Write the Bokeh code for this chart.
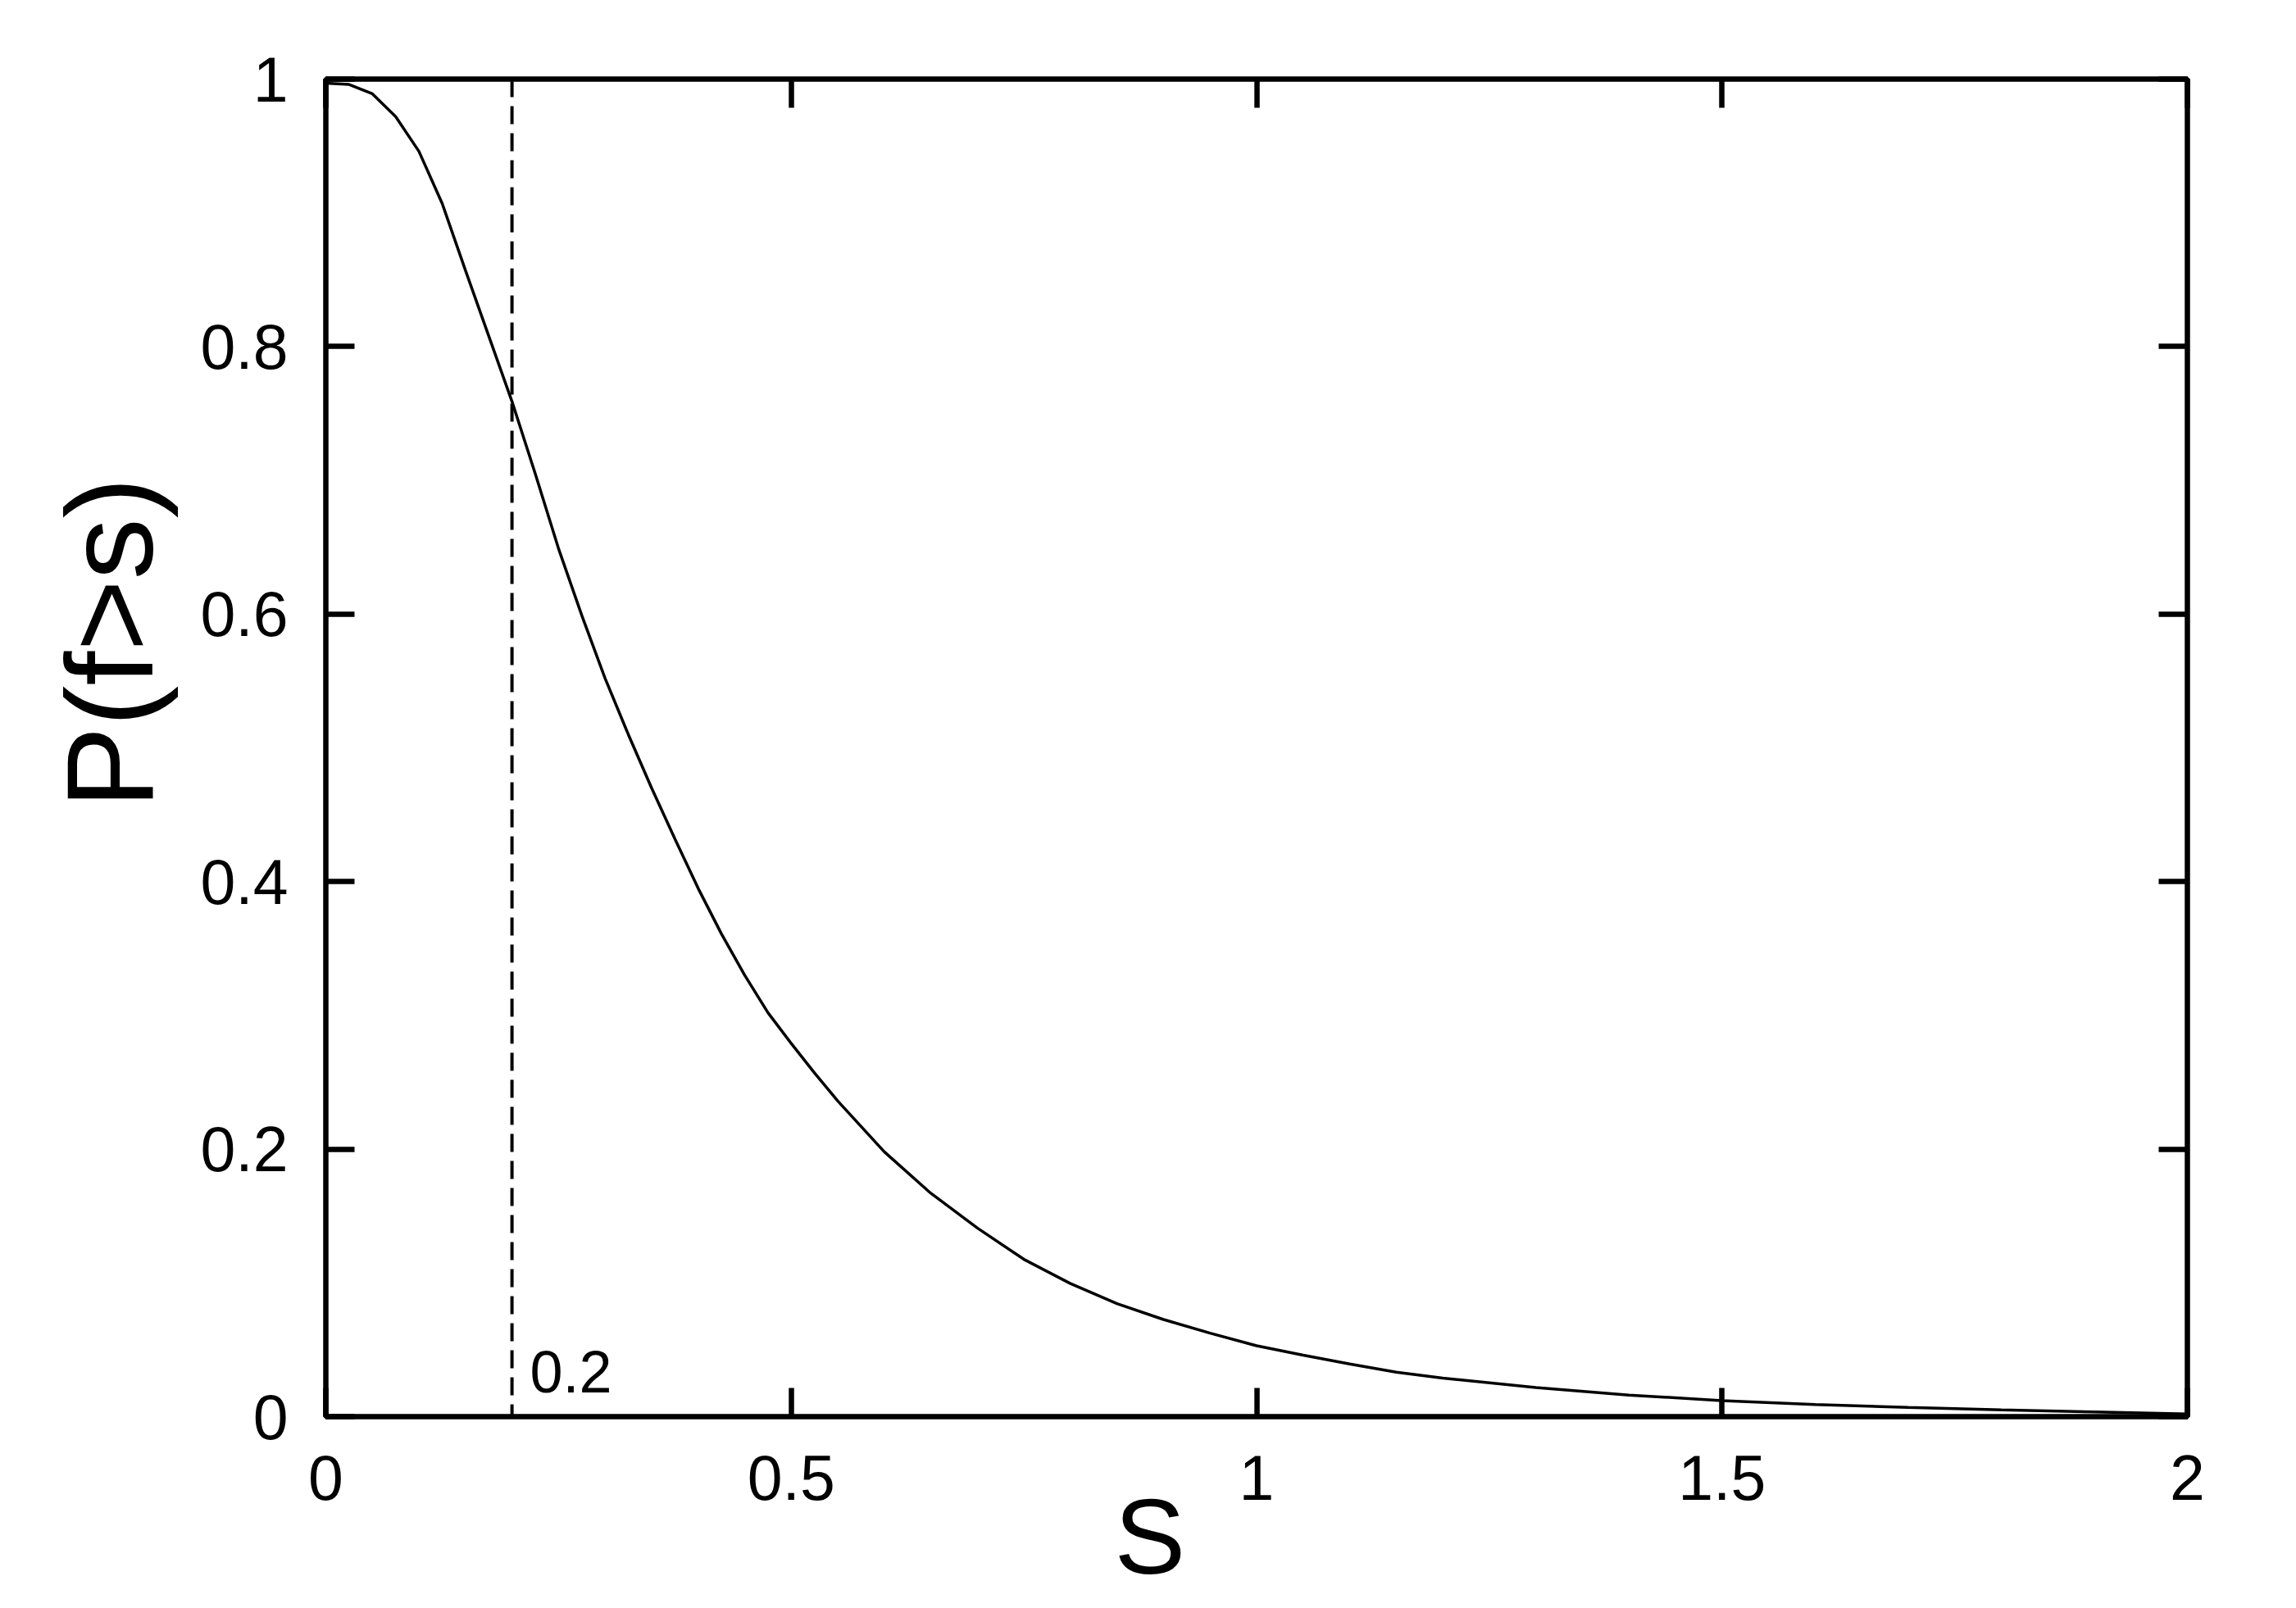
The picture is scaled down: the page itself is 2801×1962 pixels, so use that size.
from bokeh.plotting import figure
from bokeh.models import Range1d, FixedTicker, LinearAxis, Span, Label, Title
from bokeh.embed import file_html
from bokeh.resources import INLINE

# ---- data ----
s_values = [0.0, 0.025, 0.05, 0.075, 0.1, 0.125, 0.15, 0.175, 0.2, 0.225, 0.25,
            0.275, 0.3, 0.325, 0.35, 0.375, 0.4, 0.425, 0.45, 0.475, 0.5, 0.525,
            0.55, 0.575, 0.6, 0.65, 0.7, 0.75, 0.8, 0.85, 0.9, 0.95, 1.0, 1.05,
            1.1, 1.15, 1.2, 1.3, 1.4, 1.5, 1.6, 1.7, 1.8, 1.9, 2.0]
p_values = [0.997, 0.996, 0.989, 0.972, 0.946, 0.907, 0.857, 0.808, 0.759, 0.705, 0.649,
            0.599, 0.552, 0.510, 0.470, 0.432, 0.395, 0.361, 0.330, 0.302, 0.279, 0.257,
            0.236, 0.217, 0.198, 0.167, 0.141, 0.1176, 0.0995, 0.0845, 0.0726, 0.0624, 0.053, 0.046,
            0.0394, 0.0332, 0.0288, 0.0217, 0.0161, 0.0120, 0.0091, 0.0069, 0.0050, 0.0035, 0.0020]

threshold = 0.2
threshold_label = "0.2"

x_ticks = [0, 0.5, 1, 1.5, 2]
x_tick_labels = ["0", "0.5", "1", "1.5", "2"]
y_ticks = [0, 0.2, 0.4, 0.6, 0.8, 1]
y_tick_labels = ["0", "0.2", "0.4", "0.6", "0.8", "1"]

x_title = "S"
y_title = "P(f>s)"

FONT = "Liberation Sans"
TICK_FS = "77px"

p = figure(width=2785, height=1946, output_backend="svg", toolbar_location=None,
           x_range=Range1d(0, 2), y_range=Range1d(0, 1),
           min_border_left=397, min_border_right=117, min_border_top=96, min_border_bottom=218,
           x_axis_location=None, y_axis_location=None)
p.background_fill_color = "white"
p.border_fill_color = "white"
p.xgrid.visible = False
p.ygrid.visible = False
p.outline_line_color = "black"
p.outline_line_width = 6.5

def style_axis(ax, ticks, labels, show_labels, standoff):
    ax.ticker = FixedTicker(ticks=ticks)
    ax.major_label_overrides = {t: l for t, l in zip(ticks, labels)}
    ax.axis_line_color = None
    ax.major_tick_in = 35
    ax.major_tick_out = 0
    ax.major_tick_line_width = 6.5
    ax.major_tick_line_color = "black"
    ax.minor_tick_line_color = None
    ax.major_label_standoff = standoff
    ax.major_label_text_font = FONT
    if show_labels:
        ax.major_label_text_font_size = TICK_FS
        ax.major_label_text_color = "black"
    else:
        ax.major_label_text_font_size = "0px"
        ax.major_label_text_color = None

xb = LinearAxis()
style_axis(xb, x_ticks, x_tick_labels, True, 47)
p.add_layout(xb, "below")
xa = LinearAxis()
style_axis(xa, x_ticks, x_tick_labels, False, 0)
p.add_layout(xa, "above")
yl = LinearAxis()
style_axis(yl, y_ticks, y_tick_labels, True, 46)
p.add_layout(yl, "left")
yr = LinearAxis()
style_axis(yr, y_ticks, y_tick_labels, False, 0)
p.add_layout(yr, "right")

# curve
p.line(s_values, p_values, line_color="black", line_width=3.5)

# dashed threshold line
p.add_layout(Span(location=threshold, dimension="height", line_color="black",
                  line_width=4, line_dash="22 11"))
p.add_layout(Label(x=threshold + 0.0193, y=0.0337, text=threshold_label,
                   text_font=FONT, text_font_size="72px", text_color="black",
                   text_align="left", text_baseline="alphabetic"))

# axis titles (as Title annotations so they are drawn outside the frame)
p.add_layout(Title(text=x_title, text_font=FONT, text_font_size="130px",
                   text_font_style="normal", text_color="black",
                   align="left", offset=962, vertical_align="top", standoff=-62), "below")
p.add_layout(Title(text=y_title, text_font=FONT, text_font_size="150px",
                   text_font_style="normal", text_color="black",
                   align="left", offset=742, vertical_align="bottom", standoff=48), "left")

open("out.html", "w").write(file_html(p, INLINE))
